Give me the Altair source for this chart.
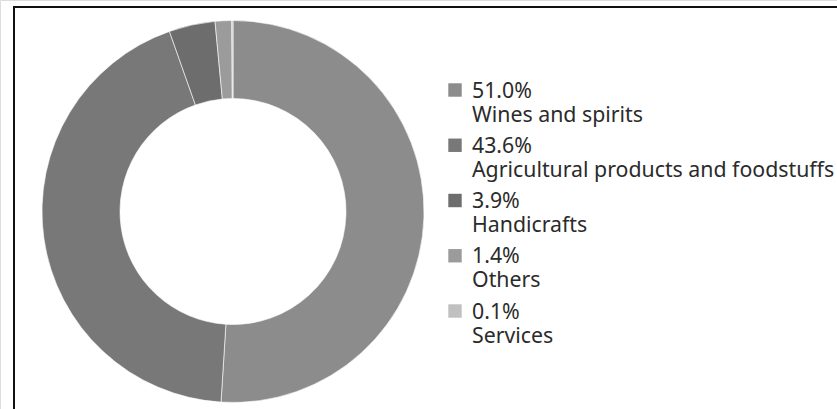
import altair as alt
import pandas as pd

categories = ["Wines and spirits", "Agricultural products and foodstuffs", "Handicrafts", "Others", "Services"]
shares = [51.0, 43.6, 3.9, 1.4, 0.1]
share_labels = ["51.0%", "43.6%", "3.9%", "1.4%", "0.1%"]
colors = ["#8c8c8c", "#787878", "#6d6d6d", "#9b9b9b", "#c0c0c0"]

df = pd.DataFrame({
    "category": categories,
    "share": shares,
    "pct": share_labels,
    "idx": list(range(len(categories))),
})

W, H = 837, 409
color_scale = alt.Scale(domain=categories, range=colors)

arcs = alt.Chart(df).mark_arc(
    innerRadius=113, outerRadius=191, stroke="#ffffff", strokeWidth=0.6
).encode(
    theta=alt.Theta("share:Q", stack=True),
    order=alt.Order("idx:Q"),
    color=alt.Color("category:N", scale=color_scale, legend=None),
    x=alt.value(233),
    y=alt.value(211.5),
)

ypos = alt.Y("idx:Q", scale=alt.Scale(domain=[0, 4], range=[90, 311]), axis=None)

squares = alt.Chart(df).mark_square(size=180, opacity=1).encode(
    x=alt.value(455),
    y=ypos,
    color=alt.Color("category:N", scale=color_scale, legend=None),
)

text_style = dict(align="left", baseline="alphabetic", font="Noto Sans",
                  fontSize=21.3, color="#2b2b2b")

pct_text = alt.Chart(df).mark_text(dy=7.5, **text_style).encode(
    x=alt.value(472), y=ypos, text="pct:N",
)
name_text = alt.Chart(df).mark_text(dy=31.5, **text_style).encode(
    x=alt.value(472), y=ypos, text="category:N",
)

border = pd.DataFrame({"k": [0]})
left_rule = alt.Chart(border).mark_rule(color="#111111", strokeWidth=2).encode(
    x=alt.value(14), y=alt.value(6), y2=alt.value(H)
)
top_rule = alt.Chart(border).mark_rule(color="#111111", strokeWidth=2).encode(
    x=alt.value(13), x2=alt.value(W), y=alt.value(7)
)

chart = alt.layer(arcs, squares, pct_text, name_text, left_rule, top_rule).properties(
    width=W, height=H,
    autosize=alt.AutoSizeParams(type="none"),
    padding=0,
).configure_view(stroke=None).configure(background="#ffffff")

chart.save("out.html", embed_options={"renderer": "svg", "actions": False})
